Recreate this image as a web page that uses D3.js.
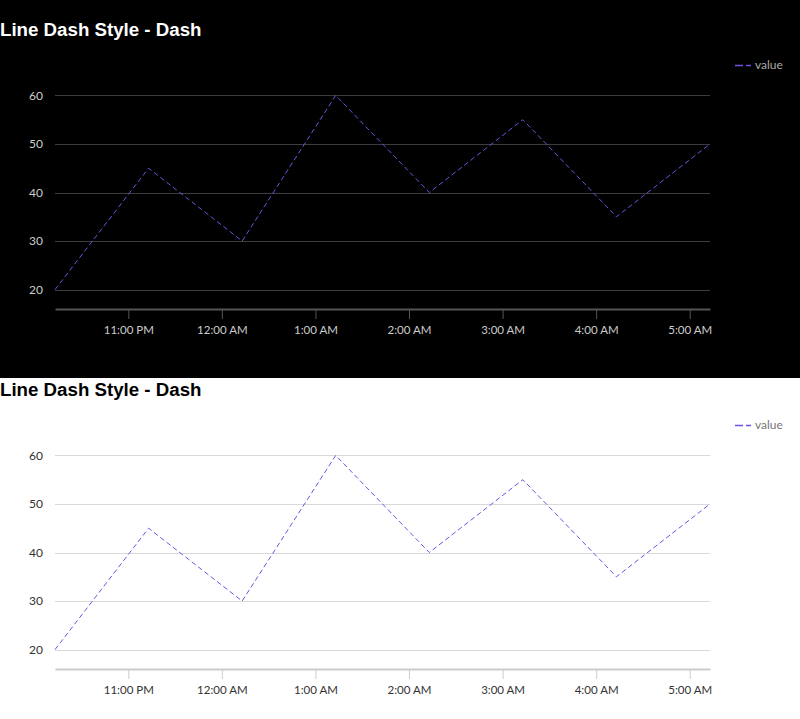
<!DOCTYPE html>
<html>
<head>
<meta charset="utf-8">
<script src="https://cdn.jsdelivr.net/npm/d3@7"></script>
<style>
  html, body { margin: 0; padding: 0; background: #fff; }
  svg { display: block; }
</style>
</head>
<body>
<script>
// data (times in UTC to stay timezone safe)
const times = ["22:13", "23:13", "00:13", "01:13", "02:13", "03:13", "04:13", "05:13"]
const values = [20, 45, 30, 60, 40, 55, 35, 50]
const yTicks = [20, 30, 40, 50, 60]
const seriesName = "value"
const chartTitle = "Line Dash Style - Dash"

const width = 800
const height = 719

const dates = times.map((t, i) => {
    const [h, m] = t.split(":").map(Number)
    // first two points are on day 1, after midnight roll to day 2
    const day = i < 2 ? 1 : 2
    return new Date(Date.UTC(2024, 0, day, h, m))
})
const data = dates.map((d, i) => ({ date: d, value: values[i] }))

const themes = [
    { bg: "#000", title: "#fff", grid: "#3d3d3d", axis: "#555", label: "#ccc", legend: "#aaa" },
    { bg: "#fff", title: "#000", grid: "#d9d9d9", axis: "#ccc", label: "#333", legend: "#777" }
]

const svg = d3.select("body").append("svg")
    .attr("width", width)
    .attr("height", height)

// backgrounds
svg.append("rect").attr("x", 0).attr("y", 0).attr("width", width).attr("height", 378).attr("fill", themes[0].bg)
svg.append("rect").attr("x", 0).attr("y", 378).attr("width", width).attr("height", height - 378).attr("fill", themes[1].bg)

const lineColor = "#7152de"
const margin = { left: 55, right: 90 }

function drawPanel(theme, top) {
    const g = svg.append("g").attr("transform", `translate(0,${top})`)

    const x = d3.scaleUtc()
        .domain(d3.extent(dates))
        .range([margin.left, width - margin.right])
    const y = d3.scaleLinear()
        .domain([16, 64])
        .range([309, 76])

    g.append("text")
        .attr("x", 0)
        .attr("y", 36)
        .attr("fill", theme.title)
        .style("font", "bold 18.7px 'Liberation Sans', Arial, sans-serif")
        .text(chartTitle)

    // grid
    g.append("g")
        .selectAll("line")
        .data(yTicks)
        .join("line")
        .attr("x1", x.range()[0])
        .attr("x2", x.range()[1])
        .attr("y1", d => Math.round(y(d)) + 0.5)
        .attr("y2", d => Math.round(y(d)) + 0.5)
        .attr("stroke", theme.grid)

    // y labels
    g.append("g")
        .selectAll("text")
        .data(yTicks)
        .join("text")
        .attr("x", 43)
        .attr("y", d => y(d))
        .attr("dy", "0.35em")
        .attr("text-anchor", "end")
        .attr("fill", theme.label)
        .style("font", "12px Lato, sans-serif")
        .text(d => d)

    // x axis
    const xAxis = d3.axisBottom(x)
        .ticks(d3.utcHour.every(1))
        .tickFormat(d3.utcFormat("%-I:%M %p"))
        .tickSize(10)
        .tickPadding(7)
        .tickSizeOuter(0)

    const ax = g.append("g")
        .attr("transform", `translate(0,${y.range()[0]})`)
        .call(xAxis)
    ax.select(".domain").attr("stroke", theme.axis).attr("stroke-width", 2)
    ax.selectAll(".tick line").attr("stroke", theme.axis)
    ax.selectAll(".tick text")
        .attr("fill", theme.label)
        .style("font", "11.5px Lato, sans-serif")

    // series line
    const line = d3.line()
        .x(d => x(d.date))
        .y(d => y(d.value))

    g.append("path")
        .datum(data)
        .attr("d", line)
        .attr("fill", "none")
        .attr("stroke", lineColor)
        .attr("stroke-width", 1)
        .attr("stroke-dasharray", "5,3")

    // legend
    const lg = g.append("g").attr("transform", "translate(735,65)")
    lg.append("line")
        .attr("x1", 0).attr("x2", 16)
        .attr("y1", 0.5).attr("y2", 0.5)
        .attr("stroke", lineColor)
        .attr("stroke-width", 1.5)
        .attr("stroke-dasharray", "8,3")
    lg.append("text")
        .attr("x", 20)
        .attr("y", 0)
        .attr("dy", "0.35em")
        .attr("fill", theme.legend)
        .style("font", "12px Lato, sans-serif")
        .text(seriesName)
}

drawPanel(themes[0], 0)
drawPanel(themes[1], 360)
</script>
</body>
</html>
